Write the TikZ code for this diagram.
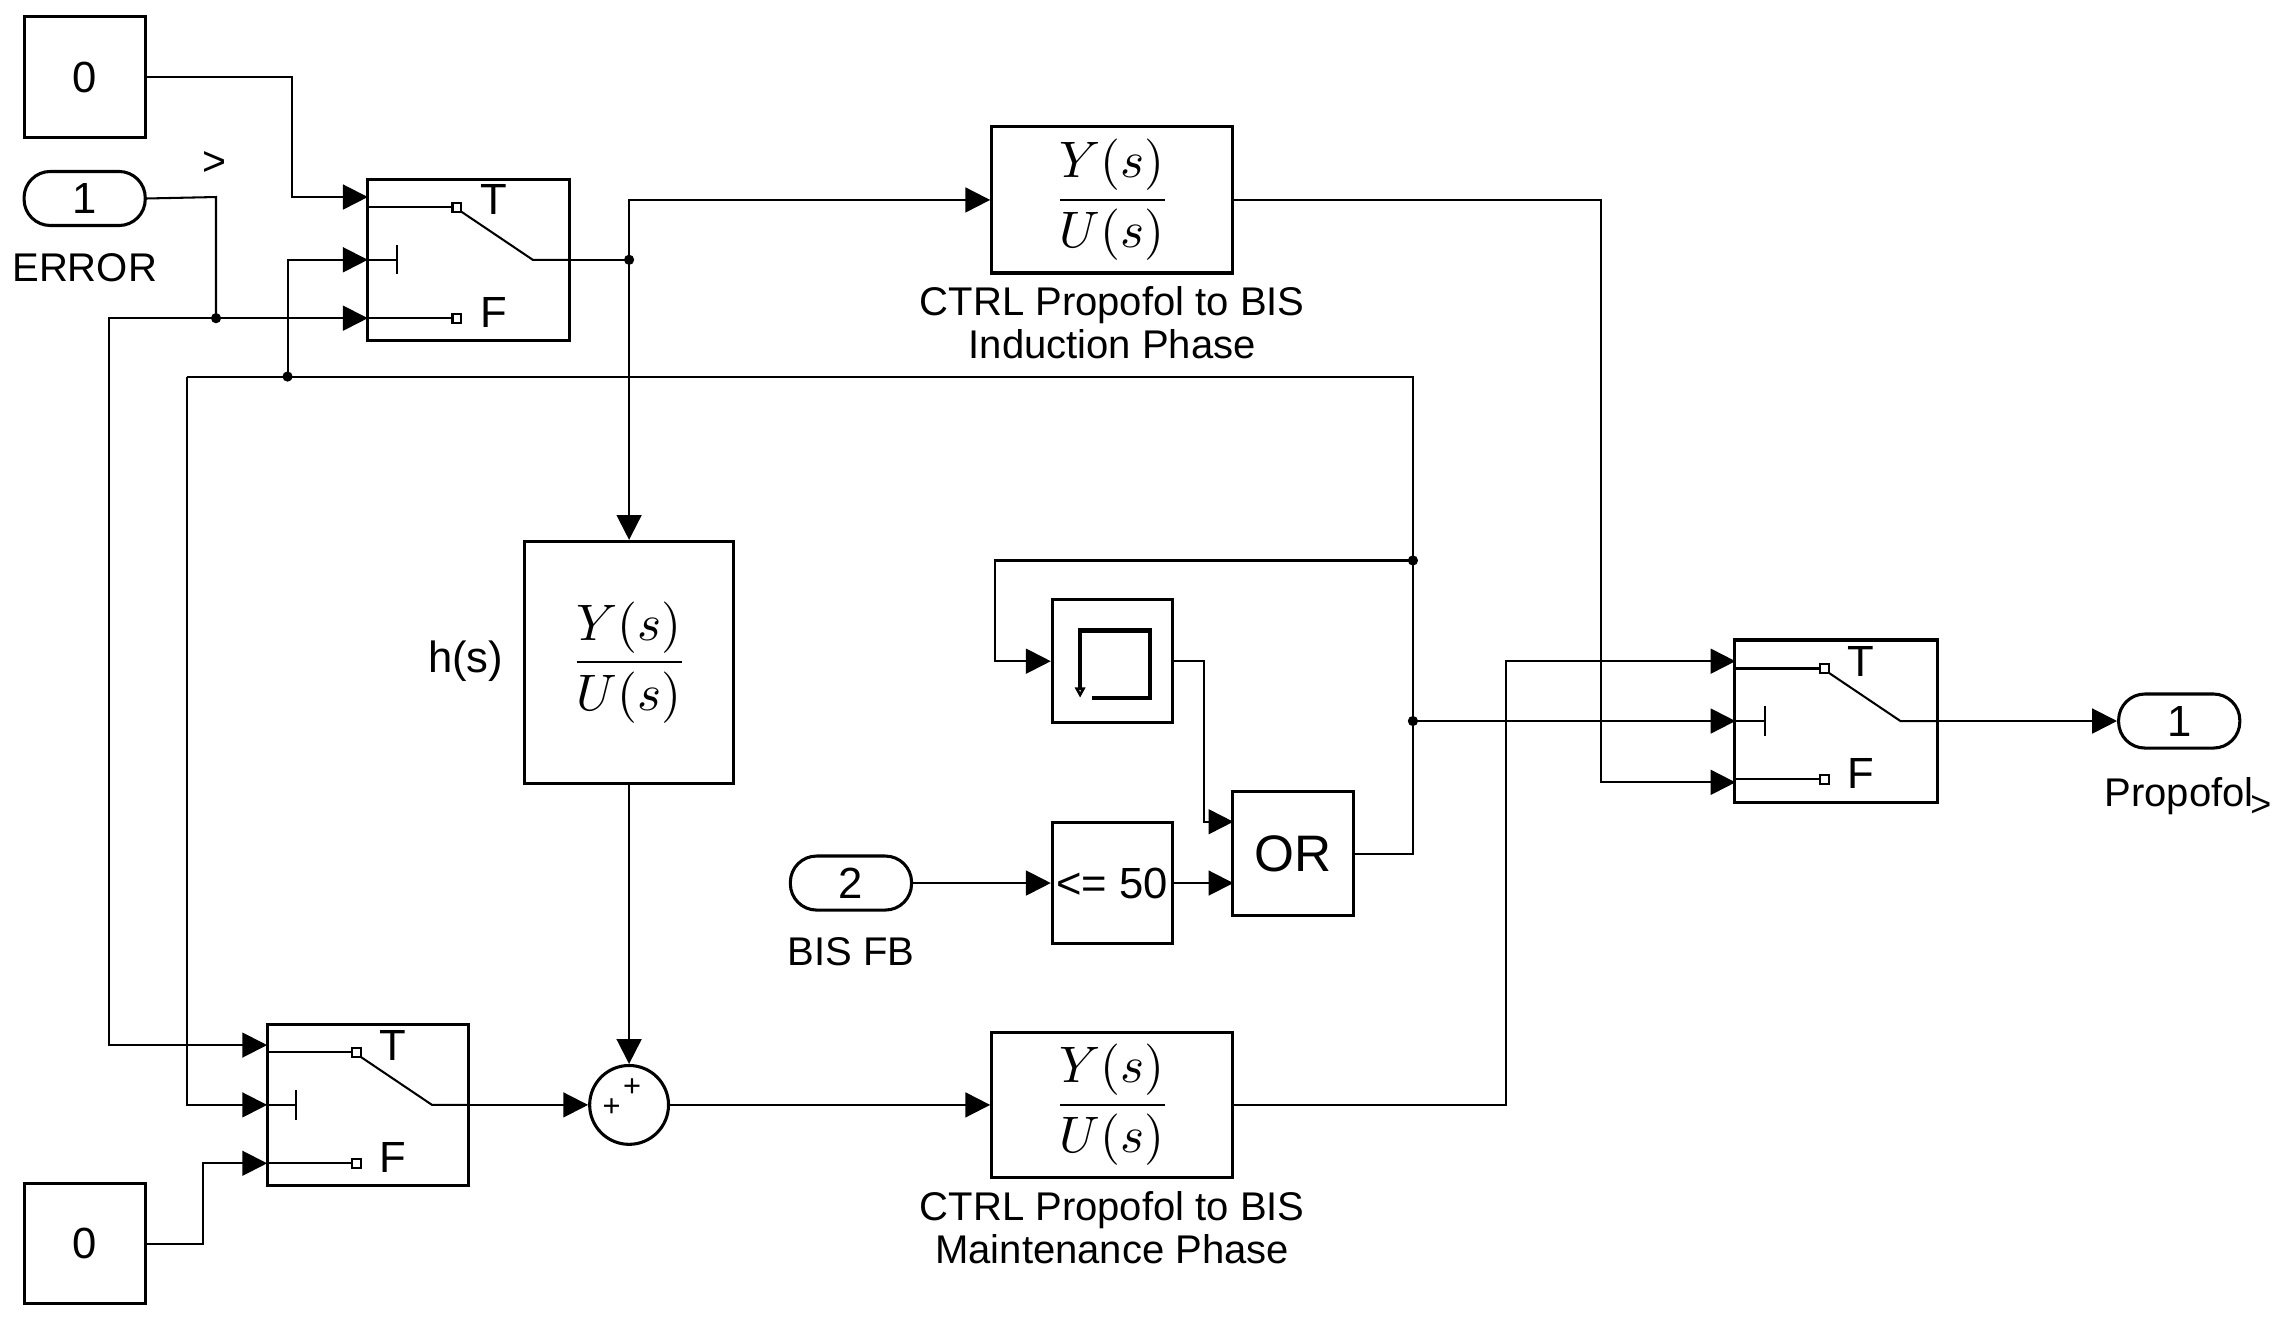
\documentclass[tikz,border=0pt]{standalone}
\usepackage{fontspec}
\setmainfont{Liberation Sans}
\usetikzlibrary{arrows.meta}
\begin{document}
\begin{tikzpicture}[x=0.01cm,y=-0.01cm,
  blk/.style={draw,line width=0.6pt,inner sep=0pt,font=\fontsize{8.5}{10}\selectfont},
  pill/.style={draw,line width=0.6pt,rounded corners=0.18cm,inner sep=0pt,minimum width=0.83cm,minimum height=0.37cm,font=\fontsize{8.5}{10}\selectfont},
  lbl/.style={font=\fontsize{7.8}{8.3}\selectfont,align=center},
  w/.style={line width=0.4pt},
  a/.style={w,-{Triangle[length=0.17cm,width=0.17cm]}},
  dot/.style={circle,fill,inner sep=0pt,minimum size=0.07cm},
  tf/.style={font=\fontsize{10}{11}\selectfont}]
\useasboundingbox (0,0) rectangle (1560,904);
% blocks
\node[blk,minimum width=0.83cm,minimum height=0.83cm] (c1) at (58,53) {0};
\node[blk,minimum width=0.83cm,minimum height=0.82cm] (c2) at (58,852) {0};
\node[pill] (in1) at (58,136) {1};
\node[lbl,anchor=north] (in1l) at (58,161) {ERROR};
\node[font=\fontsize{8}{9}\selectfont] (gt1) at (147,112) {>};
\node[pill] (in2) at (583,605) {2};
\node[lbl,anchor=north] (in2l) at (583,630) {BIS FB};
\node[pill] (out1) at (1493,494) {1};
\node[lbl,anchor=north] (out1l) at (1493,520) {Propofol};
\node[font=\fontsize{7}{8}\selectfont] (gt2) at (1549,552) {>};
\node[blk,minimum width=1.38cm,minimum height=1.10cm] (sw1) at (321,178) {};
\node[blk,minimum width=1.38cm,minimum height=1.10cm] (sw2) at (252,757) {};
\node[blk,minimum width=1.39cm,minimum height=1.11cm] (sw3) at (1258,494) {};
\node[blk,minimum width=1.65cm,minimum height=1.00cm,tf] (tf1) at (762,137) {$\displaystyle\frac{Y(s)}{U(s)}$};
\node[blk,minimum width=1.65cm,minimum height=0.99cm,tf] (tf2) at (762,757) {$\displaystyle\frac{Y(s)}{U(s)}$};
\node[blk,minimum width=1.43cm,minimum height=1.66cm,tf] (hs) at (431,454) {$\displaystyle\frac{Y(s)}{U(s)}$};
\node[lbl,font=\fontsize{8.5}{10}\selectfont] (hsl) at (319,453) {h(s)};
\node[lbl] (tf1l) at (762,221) {CTRL Propofol to BIS\\Induction Phase};
\node[lbl] (tf2l) at (762,841) {CTRL Propofol to BIS\\Maintenance Phase};
\node[blk,minimum width=0.82cm,minimum height=0.84cm] (mem) at (762,453) {};
\node[blk,minimum width=0.82cm,minimum height=0.83cm] (cmp) at (762,605) {<= 50};
\node[blk,minimum width=0.83cm,minimum height=0.85cm,font=\fontsize{10}{11}\selectfont] (or) at (886,585) {OR};
\node[draw,circle,line width=0.6pt,minimum size=0.54cm,inner sep=0pt] (sum) at (431,757) {};
\node[font=\fontsize{6}{6}\selectfont] at (433,745) {+};
\node[font=\fontsize{6}{6}\selectfont] at (419,759) {+};
% memory icon
\draw[line width=0.8pt] (740,462) -- (740,432) -- (788,432) -- (788,478) -- (748,478);
\draw[line width=0.8pt,-{Triangle[length=0.07cm,width=0.07cm,open]}] (740,462) -- (740,478);
% switch icons
\foreach \s/\x/\y in {sw1/252/123,sw2/183/702,sw3/1189/439}{
  \begin{scope}[shift={(\x,\y)}]
  \draw[w] (0,19) -- (58,19); \draw[w] (58,16) rectangle (64,22);
  \draw[w] (64,22) -- (113,55) -- (138,55);
  \draw[w] (0,55) -- (20,55); \draw[w] (20,45) -- (20,65);
  \draw[w] (0,95) -- (58,95); \draw[w] (58,92) rectangle (64,98);
  \node[font=\fontsize{8.5}{10}\selectfont] at (86,14) {T};
  \node[font=\fontsize{8.5}{10}\selectfont] at (86,91) {F};
  \end{scope}}
% dots
\node[dot] (d1) at (431,178) {};
\node[dot] (d2) at (148,218) {};
\node[dot] (d3) at (197,258) {};
\node[dot] (d4) at (968,384) {};
\node[dot] (d5) at (968,494) {};
\coordinate (k1) at (128,258);
% connectors
\draw[a] (c1.east) -- (200,53) -- (200,135) -- (252,135);
\draw[w] (in1.east) -- (148,135) -- (d2.center);
\draw[a] (d2.center) -- (252,218);
\draw[a] (d2.center) -- (75,218) -- (75,716) -- (183,716);
\draw[a] (d3.center) -- (197,178) -- (252,178);
\draw[w] (k1) -- (968,258) -- (d4.center) -- (d5.center);
\draw[a] (k1) -- (128,757) -- (183,757);
\draw[w] (sw1.east) -- (d1.center);
\draw[a] (d1.center) -- (431,137) -- (tf1.west);
\draw[a] (d1.center) -- (hs.north);
\draw[a] (tf1.east) -- (1097,137) -- (1097,536) -- (1189,536);
\draw[a] (sw3.east) -- (out1.west);
\draw[a] (d5.center) -- (1189,494);
\draw[w] (or.east) -- (968,585) -- (d5.center);
\draw[a] (d4.center) -- (682,384) -- (682,453) -- (mem.west);
\draw[a] (mem.east) -- (825,453) -- (825,563) -- (845,563);
\draw[a] (in2.east) -- (cmp.west);
\draw[a] (cmp.east) -- (845,605);
\draw[a] (hs.south) -- (sum.north);
\draw[a] (sw2.east) -- (sum.west);
\draw[a] (sum.east) -- (tf2.west);
\draw[a] (tf2.east) -- (1032,757) -- (1032,453) -- (1189,453);
\draw[a] (c2.east) -- (139,852) -- (139,797) -- (183,797);
\end{tikzpicture}
\end{document}
